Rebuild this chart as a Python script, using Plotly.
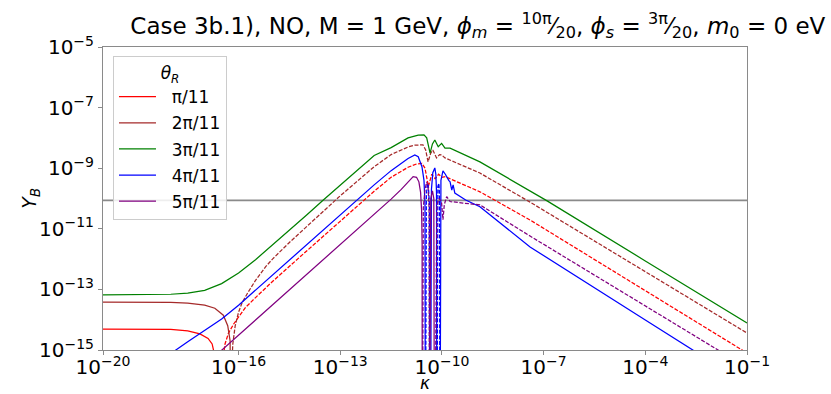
import plotly.graph_objects as go

# ---------------- data (log10 kappa, log10 |Y_B|) ----------------
# -20 in the log|Y_B| arrays marks a sign change (|Y_B| -> 0, below the plotted range)
Y_OBS = 8.7e-11

series_names = ["π/11", "2π/11", "3π/11", "4π/11", "5π/11"]
series_colors = ["#ff0000", "#a52a2a", "#008000", "#0000ff", "#800080"]

# theta_R = pi/11
red_pos_logk = [-20, -19, -18.5, -18, -17.5, -17.14, -16.9, -16.78, -16.72, -16.68, -16.67]
red_pos_logy = [-14.31, -14.31, -14.31, -14.32, -14.37, -14.47, -14.62, -14.8, -15.1, -16, -20]
red_neg_logk = [-16.49, -16.46, -16.4, -16.3, -16.15, -16.0, -15.8, -15.5, -15, -14, -13, -12,
                -11.5, -11, -10.75, -10.59, -10.5, -10.45, -10.4, -10.3, -10.2, -10.1, -10.0,
                -9.9, -8.88, -7.4, -4, -1]
red_neg_logy = [-20, -15.3, -14.8, -14.45, -14.15, -13.9, -13.6, -13.27, -12.74, -11.74, -10.74,
                -9.76, -9.3, -8.97, -8.86, -8.84, -9.0, -9.3, -9.6, -9.2, -9.35, -9.2, -9.3,
                -9.28, -9.78, -10.71, -13.04, -15.1]

# theta_R = 2pi/11
brown_pos_logk = [-20, -19, -18, -17.5, -17, -16.7, -16.45, -16.32, -16.25, -16.22]
brown_pos_logy = [-13.42, -13.42, -13.43, -13.45, -13.52, -13.62, -13.85, -14.2, -14.7, -20]
brown_neg_logk = [-16.22, -16.2, -16.17, -16.1, -16.0, -15.9, -15.75, -15.5, -15.2, -15, -14.5,
                  -14, -13, -12, -11.5, -11, -10.8, -10.56, -10.48, -10.41, -10.33, -10.27,
                  -10.16, -10.07, -10.01, -9.91, -8.88, -7.4, -4, -1]
brown_neg_logy = [-20, -15.5, -14.8, -14.2, -13.75, -13.45, -13.15, -12.7, -12.25, -12.0, -11.45,
                  -10.93, -9.91, -8.95, -8.55, -8.3, -8.24, -8.23, -8.4, -8.79, -8.5, -8.4,
                  -8.66, -8.55, -8.56, -8.66, -9.16, -10.12, -12.42, -14.44]

# theta_R = 3pi/11
green_pos_logk = [-20, -19, -18, -17.5, -17, -16.5, -16, -15.5, -15, -14.5, -14, -13.5, -13,
                  -12.5, -12, -11.5, -11, -10.7, -10.53, -10.45, -10.35, -10.28, -10.21,
                  -10.11, -10.01, -9.91, -9.76, -8.88, -6.91, -4, -1]
green_pos_logy = [-13.18, -13.18, -13.16, -13.12, -13.03, -12.81, -12.46, -12.02, -11.54,
                  -11.04, -10.55, -10.05, -9.55, -9.05, -8.58, -8.32, -8.0, -7.91, -7.9, -8.0,
                  -8.5, -8.2, -8.07, -8.29, -8.18, -8.34, -8.34, -8.79, -10.07, -12.06, -14.11]

# theta_R = 4pi/11
blue_pos1_logk = [-20, -18.5, -17.85, -17.5, -17, -16.5, -16, -15, -14, -13, -12, -11.5, -11,
                  -10.8, -10.7, -10.59, -10.53, -10.5, -10.49]
blue_pos1_logy = [-16.6, -15.5, -15.0, -14.73, -14.36, -13.98, -13.52, -12.52, -11.52, -10.52,
                  -9.55, -9.08, -8.68, -8.56, -8.62, -8.95, -9.4, -10.2, -20]
blue_neg1_logk = [-10.49, -10.46, -10.43, -10.4, -10.37, -10.36]
blue_neg1_logy = [-20, -9.9, -9.5, -9.6, -10.2, -20]
blue_pos2_logk = [-10.34, -10.31, -10.27, -10.21, -10.18, -10.16, -10.15]
blue_pos2_logy = [-20, -9.7, -9.15, -8.99, -9.2, -9.8, -20]
blue_neg2_logk = [-10.15, -10.12, -10.09, -10.07, -10.06]
blue_neg2_logy = [-20, -9.6, -9.5, -9.9, -20]
blue_pos3_logk = [-10.06, -10.03, -9.97, -9.9, -9.8, -9.76, -9.71, -9.67, -9.62, -9.3, -8.88,
                  -7.4, -4, -2.6, -1]
blue_pos3_logy = [-20, -9.4, -9.09, -9.2, -9.4, -9.45, -9.72, -9.55, -9.82, -10.05, -10.27,
                  -11.6, -14.01, -15.0, -16.13]

# theta_R = 5pi/11
purple_pos1_logk = [-20, -17.5, -16.5, -16, -15, -14, -13, -12, -11.5, -11.2, -11, -10.85,
                    -10.75, -10.68, -10.63, -10.6, -10.585, -10.58]
purple_pos1_logy = [-18.5, -16.01, -15.01, -14.51, -13.51, -12.51, -11.51, -10.51, -10.02,
                    -9.7, -9.45, -9.28, -9.3, -9.45, -9.8, -10.4, -11.5, -20]
purple_neg1_logk = [-10.58, -10.55, -10.5, -10.45, -10.41, -10.38, -10.37]
purple_neg1_logy = [-20, -10.3, -9.7, -9.45, -9.6, -10.3, -20]
purple_pos2_logk = [-10.37, -10.33, -10.28, -10.24, -10.22]
purple_pos2_logy = [-20, -10.0, -9.75, -10.0, -20]
purple_neg2_logk = [-10.22, -10.15, -10.08, -10.01, -9.97, -9.93, -9.86, -9.76, -9.38, -8.88,
                    -7.4, -4, -1.86, -1]
purple_neg2_logy = [-20, -10.2, -10.0, -10.15, -10.7, -10.2, -9.94, -10.1, -10.15, -10.21,
                    -11.24, -13.55, -15.0, -15.58]

x_tick_vals = [1e-20, 1e-16, 1e-13, 1e-10, 1e-7, 1e-4, 1e-1]
x_tick_text = ["10<sup>−20</sup>", "10<sup>−16</sup>", "10<sup>−13</sup>", "10<sup>−10</sup>",
               "10<sup>−7</sup>", "10<sup>−4</sup>", "10<sup>−1</sup>"]
y_tick_vals = [1e-5, 1e-7, 1e-9, 1e-11, 1e-13, 1e-15]
y_tick_text = ["10<sup>−5</sup>", "10<sup>−7</sup>", "10<sup>−9</sup>", "10<sup>−11</sup>",
               "10<sup>−13</sup>", "10<sup>−15</sup>"]

# ---------------- figure ----------------
segments = [
    # (series index, logk, logy, dashed)
    (0, red_pos_logk, red_pos_logy, False),
    (0, red_neg_logk, red_neg_logy, True),
    (1, brown_pos_logk, brown_pos_logy, False),
    (1, brown_neg_logk, brown_neg_logy, True),
    (2, green_pos_logk, green_pos_logy, False),
    (3, blue_pos1_logk, blue_pos1_logy, False),
    (3, blue_neg1_logk, blue_neg1_logy, True),
    (3, blue_pos2_logk, blue_pos2_logy, False),
    (3, blue_neg2_logk, blue_neg2_logy, True),
    (3, blue_pos3_logk, blue_pos3_logy, False),
    (4, purple_pos1_logk, purple_pos1_logy, False),
    (4, purple_neg1_logk, purple_neg1_logy, True),
    (4, purple_pos2_logk, purple_pos2_logy, False),
    (4, purple_neg2_logk, purple_neg2_logy, True),
]

fig = go.Figure()
shown = set()
for idx, lk, ly, dashed in segments:
    first = (idx not in shown) and not dashed
    if first:
        shown.add(idx)
    fig.add_trace(go.Scatter(
        x=[10 ** v for v in lk],
        y=[10 ** v for v in ly],
        mode="lines",
        name="\u00a0\u00a0" + series_names[idx],
        legendgroup=series_names[idx],
        showlegend=first,
        legendrank=idx + 1,
        line=dict(color=series_colors[idx], width=1.25,
                  dash="4px,1.6px" if dashed else "solid"),
        hoverinfo="skip",
    ))

fig.add_hline(y=Y_OBS, line=dict(color="#8a8a8a", width=1.8), layer="below")

axis_common = dict(
    type="log", showgrid=False, zeroline=False, showline=True, linecolor="#8a8a8a",
    linewidth=1, mirror=True, ticks="outside", ticklen=4, tickcolor="#8a8a8a",
    tickfont=dict(size=20, family="DejaVu Sans", color="black"), automargin=False,
)
fig.update_xaxes(**axis_common, range=[-20, -1], tickvals=x_tick_vals, ticktext=x_tick_text,
                 ticklabelstandoff=-5)
fig.update_yaxes(**axis_common, range=[-15, -5], tickvals=y_tick_vals, ticktext=y_tick_text)

# axis titles
fig.add_annotation(text="<i>κ</i>", xref="paper", yref="paper", x=0.5, y=-0.1452,
                   xanchor="center", yanchor="bottom", showarrow=False, borderpad=0,
                   font=dict(size=17, family="DejaVu Sans", color="black"))
fig.add_annotation(text="<i>Y</i><sub><i>B</i></sub>", xref="paper", yref="paper",
                   x=-0.113, y=0.5, xanchor="center", yanchor="middle", showarrow=False,
                   textangle=-90, font=dict(size=19, family="DejaVu Sans", color="black"))

title_text = ("Case 3b.1), NO, M = 1 GeV, <i>ϕ</i><sub><i>m</i></sub> = "
              "<sup>10π</sup>⁄<sub>20</sub>, <i>ϕ</i><sub><i>s</i></sub> = "
              "<sup>3π</sup>⁄<sub>20</sub>, <i>m</i><sub>0</sub> = 0 eV")

fig.update_layout(
    width=831, height=394, autosize=False,
    margin=dict(l=103, r=84, t=47, b=44),
    plot_bgcolor="white", paper_bgcolor="white",
    font=dict(family="DejaVu Sans", color="black"),
    title=dict(text=title_text, xref="container", x=0.575, xanchor="center",
               yref="container", y=0.935, yanchor="middle",
               font=dict(size=23, family="DejaVu Sans", color="black")),
    legend=dict(x=0.0155, y=0.97, xanchor="left", yanchor="top",
                bordercolor="#cccccc", borderwidth=1, bgcolor="rgba(255,255,255,0.85)",
                font=dict(size=17, family="DejaVu Sans"),
                title=dict(text="<i>θ</i><sub><i>R</i></sub>", side="top center",
                           font=dict(size=17)),
                itemwidth=37, tracegroupgap=1, traceorder="grouped"),
    showlegend=True,
)

fig.write_html("out.html", config={"displayModeBar": False},
               post_script="document.body.style.margin='0px';")
